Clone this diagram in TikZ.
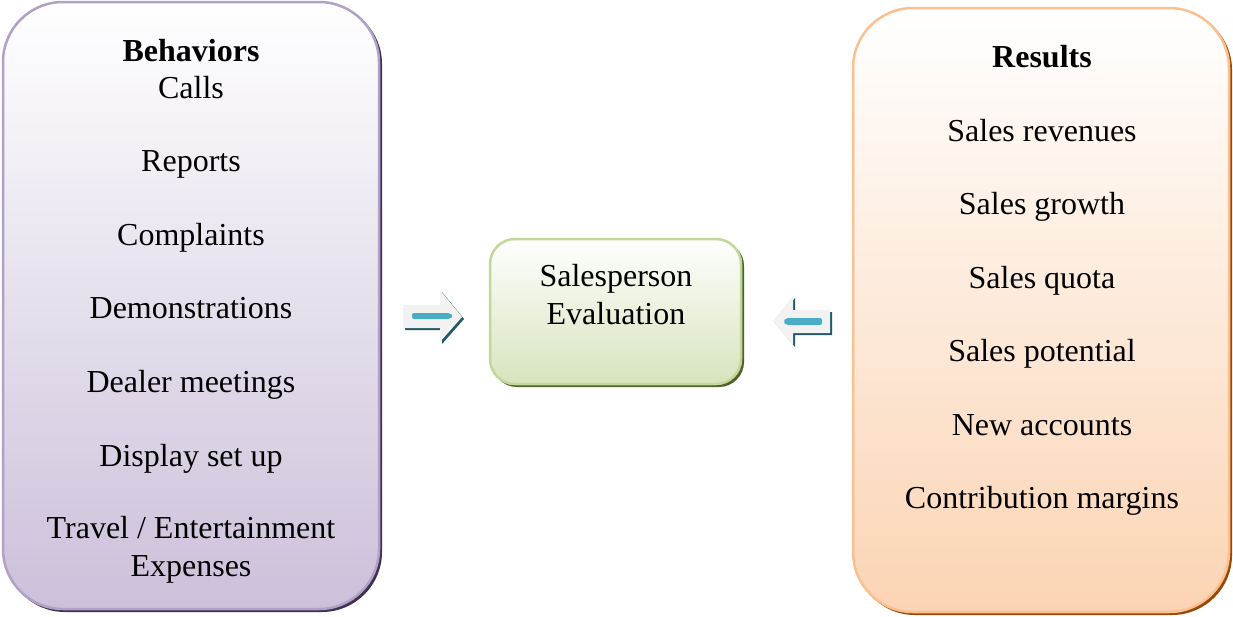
\documentclass[tikz,border=0pt]{standalone}
\usepackage{fontspec}
\setmainfont{Liberation Serif}
\begin{document}
\begin{tikzpicture}[x=1pt,y=-1pt,
  lbl/.style={anchor=base,inner sep=0pt,font=\fontsize{32}{38}\selectfont},
  hdr/.style={lbl,font=\fontsize{32}{38}\selectfont\bfseries},
  panel/.style={rounded corners=60pt,line width=2.5pt},
  arrowbody/.style={fill=arrowgray},
  arrowbar/.style={fill=arrowteal,rounded corners=2pt},
  arrowshade/.style={fill=arrowdark}]
\definecolor{purpleedge}{HTML}{B2A1C7}
\definecolor{purplelow}{HTML}{CCC0DA}
\definecolor{purpledark}{HTML}{3F3151}
\definecolor{orangeedge}{HTML}{FAC090}
\definecolor{orangelow}{HTML}{FBD4B4}
\definecolor{orangedark}{HTML}{984807}
\definecolor{greenedge}{HTML}{C3D69B}
\definecolor{greenlow}{HTML}{D7E4BD}
\definecolor{greendark}{HTML}{4F6228}
\definecolor{arrowgray}{HTML}{F2F2F2}
\definecolor{arrowteal}{HTML}{4BACC6}
\definecolor{arrowdark}{HTML}{215968}

\useasboundingbox (0,0) rectangle (1233,616);

% left panel: behaviours
\fill[purpledark,rounded corners=60pt] (5,4) rectangle (382,612);
\path[panel,draw=purpleedge,top color=white,bottom color=purplelow] (3,2) rectangle (379,609);

% right panel: results
\fill[orangedark,rounded corners=60pt] (855,10) rectangle (1232,615);
\path[panel,draw=orangeedge,top color=white,bottom color=orangelow] (853,8) rectangle (1229,612);

% centre box
\fill[greendark,rounded corners=25pt] (492,241) rectangle (744,387);
\path[rounded corners=25pt,line width=2.5pt,draw=greenedge,top color=white!98!greenlow,bottom color=greenlow]
  (490,239) rectangle (741,384);

% block arrow pointing right
\fill[arrowshade] (405,307) -- (442,307) -- (442,292) -- (464,319) -- (442,344) -- (442,330) -- (405,330) -- cycle;
\fill[arrowbody] (403,305) -- (440,305) -- (440,290) -- (462,317) -- (440,342) -- (440,328) -- (403,328) -- cycle;
\fill[arrowbar] (412,313) -- (450,313) -- (453,316) -- (450,319) -- (412,319) -- cycle;

% block arrow pointing left
\fill[arrowshade] (832,312) -- (795,312) -- (795,298) -- (775,323) -- (795,347) -- (795,335) -- (832,335) -- cycle;
\fill[arrowbody] (830,310) -- (793,310) -- (793,296) -- (773,321) -- (793,345) -- (793,333) -- (830,333) -- cycle;
\fill[arrowbar] (822,318) -- (786,318) -- (783,321.5) -- (786,325) -- (822,325) -- cycle;

% behaviour texts
\node[hdr] (bh)  at (191,61)  {Behaviors};
\node[lbl] (b1)  at (191,98)  {Calls};
\node[lbl] (b2)  at (191,171) {Reports};
\node[lbl] (b3)  at (191,245) {Complaints};
\node[lbl] (b4)  at (191,318) {Demonstrations};
\node[lbl] (b5)  at (191,392) {Dealer meetings};
\node[lbl] (b6)  at (191,466) {Display set up};
\node[lbl] (b7)  at (191,538) {Travel / Entertainment};
\node[lbl] (b8)  at (191,576) {Expenses};

% result texts
\node[hdr] (rh)  at (1042,67)  {Results};
\node[lbl] (r1)  at (1042,141) {Sales revenues};
\node[lbl] (r2)  at (1042,214) {Sales growth};
\node[lbl] (r3)  at (1042,288) {Sales quota};
\node[lbl] (r4)  at (1042,361) {Sales potential};
\node[lbl] (r5)  at (1042,435) {New accounts};
\node[lbl] (r6)  at (1042,508) {Contribution margins};

% centre text
\node[lbl] (c1) at (616,286) {Salesperson};
\node[lbl] (c2) at (616,324) {Evaluation};
\end{tikzpicture}
\end{document}
